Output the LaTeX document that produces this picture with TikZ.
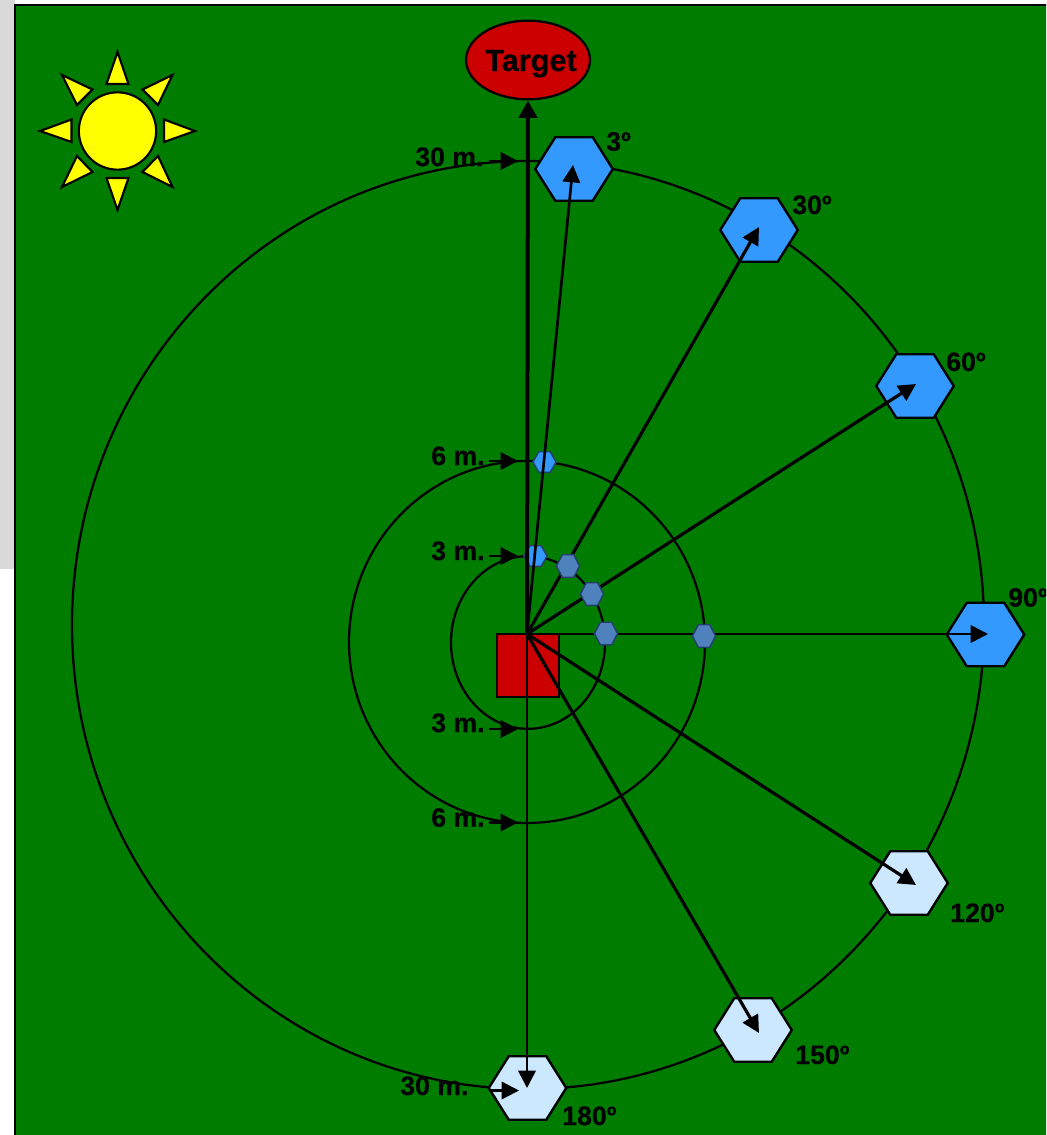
\documentclass[tikz,border=0pt]{standalone}
\usepackage{fontspec}
\setmainfont[BoldFeatures={FakeBold=0.35}]{Liberation Sans}
\usetikzlibrary{arrows.meta,shapes.geometric}
\definecolor{field}{HTML}{007D00}
\definecolor{sidegray}{HTML}{D9D9D9}
\definecolor{tred}{HTML}{CC0000}
\definecolor{hexblue}{HTML}{3399FF}
\definecolor{hexpale}{HTML}{CCE8FF}
\definecolor{hexmid}{HTML}{4F81BD}
\definecolor{hexedge}{HTML}{24406A}
\definecolor{sunyellow}{HTML}{FFFF00}
\newcommand{\hexnode}[5]{% name, position, width, height, style
  \node[inner sep=0pt,minimum width=#3,minimum height=#4] (#1) at (#2) {};
  \draw[#5] (#1.west) -- ([xshift=0.26*#3]#1.north west) -- ([xshift=-0.26*#3]#1.north east)
    -- (#1.east) -- ([xshift=-0.26*#3]#1.south east) -- ([xshift=0.26*#3]#1.south west) -- cycle;
}
\tikzset{
  x=0.75pt,y=-0.75pt,
  ring/.style={draw=black,line width=1.7pt},
  bighex/.style={draw=black,line width=1.8pt,line join=miter},
  tinyhex/.style={draw=hexedge,line width=1.1pt,line join=miter},
  ray/.style={draw=black,line width=2.4pt,-{Triangle[length=13pt,width=13pt]}},
  thinray/.style={draw=black,line width=2pt,-{Triangle[length=13pt,width=13pt]}},
  mainray/.style={draw=black,line width=3pt,-{Triangle[length=13pt,width=13.5pt]}},
  markarrow/.style={draw=black,line width=1.8pt,-{Triangle[length=13pt,width=13pt]}},
  lab/.style={anchor=base west,inner sep=0pt,font=\fontsize{20}{24}\selectfont\bfseries,text=black},
  sunpart/.style={draw=black,fill=sunyellow,line width=1.6pt,line join=miter},
}
\begin{document}
\begin{tikzpicture}
\useasboundingbox (0,0) rectangle (1046,1135);
\clip (0,0) rectangle (1046,1135);
\fill[sidegray] (0,0) rectangle (15,569);
\fill[field] (15,5) rectangle (1060,1150);
\draw[black,line width=1.9pt] (15,1150) -- (15,5) -- (1060,5);
% rings
\node[ring,ellipse,inner sep=0pt,minimum width=684pt,minimum height=696pt] (bigring) at (528,625) {};
\node[ring,ellipse,inner sep=0pt,minimum width=267pt,minimum height=271.5pt] (midring) at (527,642) {};
\node[ring,ellipse,inner sep=0pt,minimum width=115.5pt,minimum height=129.5pt] (smallring) at (528,642.5) {};
% sun
\node[sunpart,circle,inner sep=0pt,minimum size=58pt] (sun) at (117.5,131) {};
\draw[sunpart] (117.5,52) -- (128.5,84) -- (106.5,84) -- cycle;
\draw[sunpart] (117.5,210) -- (128.5,178) -- (106.5,178) -- cycle;
\draw[sunpart] (40,131) -- (71.5,119.5) -- (71.5,142) -- cycle;
\draw[sunpart] (195,131) -- (164,119.5) -- (164,142) -- cycle;
\draw[sunpart] (62,75) -- (92.5,89.5) -- (77,105) -- cycle;
\draw[sunpart] (172.5,75) -- (142.5,89.5) -- (158,105) -- cycle;
\draw[sunpart] (62,187) -- (92.5,172) -- (77,156) -- cycle;
\draw[sunpart] (172.5,187) -- (142.5,172) -- (158,156) -- cycle;
% target and shooter
\node[draw=black,line width=1.7pt,fill=tred,ellipse,inner sep=0pt,minimum width=93pt,minimum height=59pt] (target) at (528,60) {};
\node[draw=black,line width=1.7pt,fill=tred,rectangle,inner sep=0pt,minimum width=46.5pt,minimum height=47.25pt] (shooter) at (528,665.5) {};
\coordinate (o) at (527,634);
% hexagons
\hexnode{h3}{574,169}{57.75pt}{47.25pt}{bighex,fill=hexblue}
\hexnode{h30}{759,230}{57.75pt}{47.25pt}{bighex,fill=hexblue}
\hexnode{h60}{915,386}{57.75pt}{47.25pt}{bighex,fill=hexblue}
\hexnode{h90}{985.5,634.5}{57.75pt}{47.25pt}{bighex,fill=hexblue}
\hexnode{h120}{909,883}{57.75pt}{47.25pt}{bighex,fill=hexpale}
\hexnode{h150}{753,1030}{57.75pt}{47.25pt}{bighex,fill=hexpale}
\hexnode{h180}{527.5,1088}{57.75pt}{47.25pt}{bighex,fill=hexpale}
\hexnode{s3a}{535.5,556}{17pt}{15pt}{tinyhex,fill=hexblue}
\hexnode{s3b}{544.5,462}{17pt}{15pt}{tinyhex,fill=hexblue}
% rays
\coordinate (t3) at (573,165);
\coordinate (t30) at (759,227);
\coordinate (t60) at (916,384);
\coordinate (t90) at (988,634);
\coordinate (t120) at (916,885);
\coordinate (t150) at (759,1033);
\coordinate (t180) at (527,1088);
\draw[thinray] (o) -- (t3);
\draw[ray] (o) -- (t30);
\draw[ray] (o) -- (t60);
\draw[thinray] (o) -- (t90);
\draw[ray] (o) -- (t120);
\draw[ray] (o) -- (t150);
\draw[thinray] (o) -- (t180);
\draw[mainray] (o) -- (target.south);
\hexnode{m30}{568,566}{17pt}{16.5pt}{tinyhex,fill=hexmid}
\hexnode{m60}{592,594}{17pt}{16.5pt}{tinyhex,fill=hexmid}
\hexnode{m90}{606,633.5}{17pt}{16.5pt}{tinyhex,fill=hexmid}
\hexnode{n90}{704,636}{17pt}{16.5pt}{tinyhex,fill=hexmid}
% distance labels
\node[lab] (l30a) at (415,166) {30 m.};
\node[lab] (l6a) at (431,465) {6 m.};
\node[lab] (l3a) at (431,560) {3 m.};
\node[lab] (l3b) at (431,732) {3 m.};
\node[lab] (l6b) at (431,826.7) {6 m.};
\node[lab] (l30b) at (400,1095) {30 m.};
\coordinate (a1s) at (489,161); \coordinate (a1e) at (518,161);
\coordinate (a2s) at (489,461); \coordinate (a2e) at (518,461);
\coordinate (a3s) at (489,556); \coordinate (a3e) at (518,556);
\coordinate (a4s) at (489,729); \coordinate (a4e) at (518,729);
\coordinate (a5s) at (489,822.5); \coordinate (a5e) at (518,822.5);
\coordinate (a6s) at (489,1090.5); \coordinate (a6e) at (519,1090.5);
\draw[markarrow] (a1s) -- (a1e);
\draw[markarrow] (a2s) -- (a2e);
\draw[markarrow] (a3s) -- (a3e);
\draw[markarrow] (a4s) -- (a4e);
\draw[markarrow] (a5s) -- (a5e);
\draw[markarrow] (a6s) -- (a6e);
% angle labels
\node[lab] (d3) at (606,150.7) {3º};
\node[lab] (d30) at (792,214) {30º};
\node[lab] (d60) at (946,371) {60º};
\node[lab] (d90) at (1008,606.7) {90º};
\node[lab] (d120) at (950,922) {120º};
\node[lab] (d150) at (795,1064) {150º};
\node[lab] (d180) at (562,1125) {180º};
\node[lab,font=\fontsize{23}{27}\selectfont\bfseries] (tt) at (485,71) {Target};
\end{tikzpicture}
\end{document}
